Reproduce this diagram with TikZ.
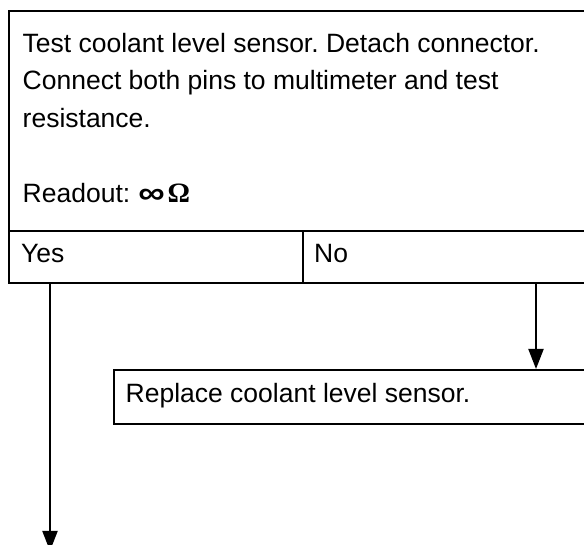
\documentclass[tikz,border=0pt]{standalone}
\usepackage{fontspec}
\setmainfont{Liberation Sans}
\newfontfamily\serifom{Liberation Serif}
\usetikzlibrary{arrows.meta}
\frenchspacing
\begin{document}
\begin{tikzpicture}[x=1pt,y=1pt,
  box/.style={draw=black, line width=2pt, inner sep=0pt, anchor=north west},
  txt/.style={anchor=base west, inner sep=0pt, font=\fontsize{26.5}{37.5}\selectfont},
  arr/.style={line width=2pt, -{Triangle[length=20pt,width=15pt]}}]
\useasboundingbox (0,0) rectangle (584,545);
\fill[white] (0,0) rectangle (584,545);
\clip (0,0) rectangle (584,545);
% question box
\node[box, minimum width=600pt, minimum height=220pt] (q) at (7.5,535) {};
\node[box, minimum width=294.2pt, minimum height=52pt] (yes) at (7.5,315) {};
\node[box, minimum width=300pt, minimum height=52pt] (no) at (301.7,315) {};
\node[txt] (t1) at (22.5,492.5) {Test coolant level sensor. Detach connector.};
\node[txt] (t2) at (22.5,455) {Connect both pins to multimeter and test};
\node[txt] (t3) at (22.5,417.5) {resistance.};
\node[txt] (t4) at (22.5,342.5) {Readout:\kern8pt\raisebox{-1.5pt}{\scalebox{1.4}[1.15]{\bfseries ∞}}\kern3pt{\serifom\bfseries\fontsize{28}{37.5}\selectfont Ω}};
\node[txt] (ty) at (21,282) {Yes};
\node[txt] (tn) at (314,282) {No};
% replace box
\node[box, minimum width=500pt, minimum height=54pt] (r) at (113,176) {};
\node[txt] (tr) at (125.5,142) {Replace coolant level sensor.};
% connectors
\coordinate (nx) at (536,0);
\coordinate (yend) at (50,-6);
\draw[arr] (no.south -| nx) -- (r.north -| nx);
\draw[arr] (yes.south -| yend) -- (yend);
\end{tikzpicture}
\end{document}
